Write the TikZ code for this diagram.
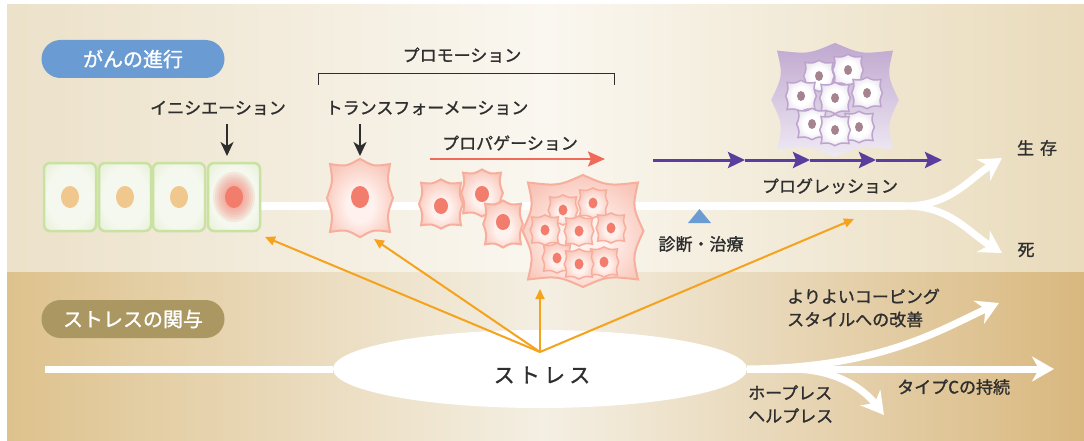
\documentclass[tikz,border=0pt]{standalone}
\usepackage{fontspec}
\setmainfont{Noto Sans CJK JP}[FakeBold=1.2]
\usetikzlibrary{arrows.meta,shapes.geometric}

% palette
\definecolor{bgLeft}{HTML}{ECE1C9}
\definecolor{bgMid}{HTML}{FAF7F0}
\definecolor{bgRight}{HTML}{E9DBBB}
\definecolor{lowLeft}{HTML}{DEC28D}
\definecolor{lowMid}{HTML}{F4EFE3}
\definecolor{lowRight}{HTML}{D9B87F}
\definecolor{pillBlue}{HTML}{6A9BD3}
\definecolor{pillOlive}{HTML}{AA9761}
\definecolor{ink}{HTML}{2E2E2E}
\definecolor{cellRim}{HTML}{C9E2A2}
\definecolor{cellFill}{HTML}{DCEAC8}
\definecolor{cellCore}{HTML}{F5F8EE}
\definecolor{nucOrange}{HTML}{F0C78D}
\definecolor{nucRed}{HTML}{F27D6D}
\definecolor{pinkRim}{HTML}{F6AE9D}
\definecolor{pinkMid}{HTML}{F9C8BC}
\definecolor{pinkCore}{HTML}{FFF2EE}
\definecolor{propRed}{HTML}{F06A5A}
\definecolor{progPurple}{HTML}{5B3D9E}
\definecolor{lilacTop}{HTML}{C0A8CF}
\definecolor{lilacBottom}{HTML}{EFEAF4}
\definecolor{lilacRim}{HTML}{BCA4CC}
\definecolor{lilacMid}{HTML}{DDD2E6}
\definecolor{nucMauve}{HTML}{A5838F}
\definecolor{stressOrange}{HTML}{F5A21C}
\definecolor{triBlue}{HTML}{6A9BD3}

% cell shadings
\pgfdeclareradialshading{greencell}{\pgfpointorigin}{color(0bp)=(cellCore); color(22bp)=(cellCore); color(44bp)=(cellFill); color(50bp)=(cellFill)}
\pgfdeclareradialshading{pinkcell}{\pgfpoint{0bp}{-6bp}}{color(0bp)=(pinkCore); color(10bp)=(pinkCore); color(28bp)=(pinkMid); color(42bp)=(pinkRim); color(50bp)=(pinkRim)}
\pgfdeclareradialshading{lilaccell}{\pgfpointorigin}{color(0bp)=(white); color(14bp)=(white); color(36bp)=(lilacMid); color(50bp)=(lilacRim)}

% spiky cell outline: centre, half width, half height, path options
\newcommand\spiky[4]{%
  \path[shift={(#1)}, xscale=#2, yscale=#3, #4]
  (0,-1.12) .. controls (0.45,-0.9) .. (1,-0.97)
  .. controls (0.9,-0.48) .. (1.1,0)
  .. controls (0.9,0.48) .. (1,0.97)
  .. controls (0.45,0.9) .. (0,1.12)
  .. controls (-0.45,0.9) .. (-1,0.97)
  .. controls (-0.9,0.48) .. (-1.1,0)
  .. controls (-0.9,-0.48) .. (-1,-0.97)
  .. controls (-0.45,-0.9) .. (0,-1.12) -- cycle;}

\begin{document}
\begin{tikzpicture}[x=1pt,y=-1pt,
  lbl/.style={font=\fontsize{17}{23}\selectfont, text=ink, inner sep=0pt},
  pill/.style={rectangle, rounded corners=19pt, minimum width=183pt, minimum height=38pt,
    inner sep=0pt, text=white, font=\fontsize{20}{20}\selectfont},
  greenbox/.style={rectangle, rounded corners=6pt, draw=cellRim, line width=2.5pt,
    shade, shading=greencell, minimum width=52pt, minimum height=68pt, inner sep=0pt},
  pinkbody/.style={shade, shading=pinkcell, draw=pinkRim, line width=2pt},
  pinksmall/.style={shade, shading=pinkcell, draw=pinkRim, line width=1.5pt},
  lilacbody/.style={shade, shading=lilaccell, draw=lilacRim, line width=1.5pt},
  whiteflow/.style={white, line width=7pt, -{Stealth[length=22pt,width=25pt,inset=7pt]}},
  blackdown/.style={ink, line width=2pt, -{Stealth[length=14pt,width=13pt,inset=4pt]}},
  progarrow/.style={progPurple, line width=3pt, -{Stealth[length=17pt,width=16pt,inset=3pt]}},
  stressarrow/.style={stressOrange, line width=2pt, -{Triangle[length=10pt,width=9pt]}}]

\useasboundingbox (0,0) rectangle (1084,441);

% two background bands
\shade[left color=bgLeft, right color=bgRight, middle color=bgMid] (7,5) rectangle (1084,272);
\shade[left color=lowLeft, right color=lowRight, middle color=lowMid] (7,272) rectangle (1084,441);

% section headings
\node[pill, fill=pillBlue] (headCancer) at (133,59) {がんの進行};
\node[pill, fill=pillOlive] (headStress) at (133,319) {ストレスの関与};

% course of the disease: white trunk splitting into two outcomes
\coordinate (trunkStart) at (230,206);
\coordinate (fork) at (905,206);
\coordinate (surviveTip) at (1002,158);
\coordinate (deathTip) at (1002,253);
\draw[white, line width=8pt] (trunkStart) -- (fork);
\draw[whiteflow] (fork) .. controls (950,206) and (968,180) .. (surviveTip);
\draw[whiteflow] (fork) .. controls (950,206) and (968,232) .. (deathTip);
\node[lbl] (survive) at (1037,148) {生\hspace{6pt}存};
\node[lbl] (death) at (1026,250) {死};

% normal epithelium and the initiated cell
\node[greenbox] (cellA) at (70,197) {};
\node[greenbox] (cellB) at (125,197) {};
\node[greenbox] (cellC) at (179,197) {};
\node[greenbox] (cellD) at (234,197) {};
\foreach \c in {cellA,cellB,cellC}
  \fill[nucOrange] (\c.center) ellipse [x radius=9, y radius=11];
\foreach \r in {21,19,17,15,13,11,9}
  \fill[nucRed, opacity=0.13] (cellD.center) ellipse [x radius=\r, y radius=1.2*\r];
\fill[nucRed] (cellD.center) ellipse [x radius=9, y radius=11];

% transformed cell
\spiky{360,198}{30}{35}{pinkbody}
\fill[nucRed] (360,197) ellipse [x radius=9, y radius=11];

% propagating cells
\spiky{441,204}{20}{22}{pinkbody}
\fill[nucRed] (441,206) ellipse [x radius=7, y radius=8];
\spiky{482,193}{19}{21}{pinkbody}
\fill[nucRed] (482,194) ellipse [x radius=7, y radius=8];
\spiky{503,224}{18}{21}{pinkbody}
\fill[nucRed] (503,222) ellipse [x radius=7, y radius=8];

% pink tumour mass
\spiky{583,231}{55}{50}{pinkbody}
\foreach \p/\q in {563/210, 593/203, 545/230, 579/231, 611/228, 557/258, 604/262, 579/264}{
  \spiky{\p,\q}{13.5}{13.5}{pinksmall}
  \fill[nucRed] (\p,\q) ellipse [x radius=4.5, y radius=5.5];
}

% purple progressed mass
\spiky{835,100}{58}{51}{top color=lilacTop, bottom color=lilacBottom}
\foreach \p/\q in {819/76, 848/70, 801/96, 835/98, 867/93, 812/124, 859/127, 835/130}{
  \spiky{\p,\q}{14}{14}{lilacbody}
  \fill[nucMauve] (\p,\q) ellipse [x radius=4, y radius=5];
}

% stage labels
\node[lbl] (promotion) at (462,55) {プロモーション};
\coordinate (brLeftFoot) at (318,85);
\coordinate (brLeftTop) at (318,74);
\coordinate (brRightTop) at (614,74);
\coordinate (brRightFoot) at (614,85);
\draw[ink, line width=1pt] (brLeftFoot) -- (brLeftTop) -- (brRightTop) -- (brRightFoot);

\node[lbl] (initiation) at (218,108) {イニシエーション};
\coordinate (initTop) at (227,124);
\coordinate (initTip) at (227,156);
\draw[blackdown] (initTop) -- (initTip);

\node[lbl] (transformation) at (427,108) {トランスフォーメーション};
\coordinate (transTop) at (360,124);
\coordinate (transTip) at (360,156);
\draw[blackdown] (transTop) -- (transTip);

\node[lbl] (propagation) at (510,143) {プロパゲーション};
\coordinate (propStart) at (430,159);
\coordinate (propTip) at (605,159);
\draw[propRed, line width=2.5pt, -{Stealth[length=17pt,width=15pt,inset=3pt]}] (propStart) -- (propTip);

\coordinate (progA) at (653,160);
\coordinate (progB) at (745,160);
\coordinate (progC) at (810,160);
\coordinate (progD) at (876,160);
\coordinate (progE) at (942,160);
\draw[progarrow] (progA) -- (progB);
\draw[progarrow] (progB) -- (progC);
\draw[progarrow] (progC) -- (progD);
\draw[progarrow] (progD) -- (progE);
\node[lbl] (progression) at (830,186) {プログレッション};

\fill[triBlue] (688,223) -- (711,223) -- (699.5,209) -- cycle;
\node[lbl] (diagnosis) at (701,244) {診断・治療};

% stress and its outcomes
\coordinate (stressLineStart) at (45,369);
\node[ellipse, fill=white, minimum width=414pt, minimum height=78pt, inner sep=0pt] (stress) at (540,369) {};
\draw[white, line width=7pt] (stressLineStart) -- (stress.west);
\node[lbl, font=\fontsize{21}{21}\selectfont\addfontfeature{LetterSpace=20}] (stressText) at (542,375) {ストレス};

\coordinate (lowBranch) at (790,369);
\coordinate (copingTip) at (999,303);
\coordinate (typeCTip) at (1054,369);
\coordinate (hopelessTip) at (884,415);
\draw[whiteflow] (stress.east) -- (typeCTip);
\draw[whiteflow] (stress.east) .. controls (880,368) and (940,330) .. (copingTip);
\draw[whiteflow] (lowBranch) .. controls (840,369) and (866,392) .. (hopelessTip);

\node[lbl, align=left, anchor=west] (coping) at (787,308) {よりよいコーピング\\スタイルへの改善};
\node[lbl, anchor=west] (typeC) at (897,387) {タイプCの持続};
\node[lbl, align=left, anchor=west] (hopeless) at (748,404) {ホープレス\\ヘルプレス};

% stress acting on every stage
\coordinate (stressApex) at (540,352);
\coordinate (toInitiation) at (265,237);
\coordinate (toTransformation) at (374,239);
\coordinate (toPromotion) at (540,289);
\coordinate (toProgression) at (854,219);
\draw[stressarrow] (stressApex) -- (toInitiation);
\draw[stressarrow] (stressApex) -- (toTransformation);
\draw[stressarrow] (stressApex) -- (toPromotion);
\draw[stressarrow] (stressApex) -- (toProgression);

\end{tikzpicture}
\end{document}
